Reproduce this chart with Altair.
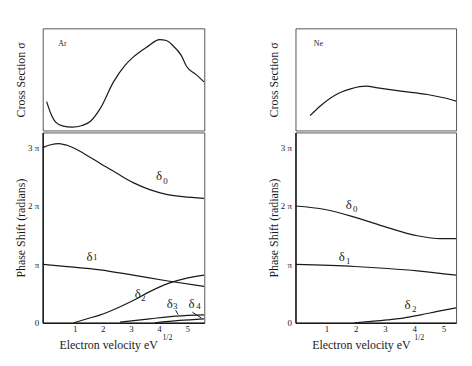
import altair as alt
import pandas as pd

FONT = "Liberation Serif"
INK = "#1a1a1a"

# ---------------- Ar data ----------------
ar_sig_x = [0.0, 0.145, 0.32, 0.56, 0.91, 1.26, 1.55, 1.91, 2.38, 2.79, 3.08, 3.56, 4.02, 4.26, 4.49, 4.79, 4.97, 5.32, 5.6]
ar_sig_y = [2.82, 1.68, 0.81, 0.45, 0.32, 0.49, 0.87, 2.16, 4.76, 6.38, 7.18, 8.16, 8.9, 8.81, 8.32, 7.35, 6.31, 5.47, 4.76]

ar_d0_x = [-0.14, 0.145, 0.44, 0.73, 1.32, 1.91, 2.50, 3.08, 3.67, 4.26, 4.85, 5.6]
ar_d0_y = [3.0, 3.05, 3.07, 3.04, 2.90, 2.73, 2.56, 2.40, 2.28, 2.20, 2.16, 2.13]
ar_d1_x = [-0.14, 0.73, 1.91, 3.08, 4.26, 5.6]
ar_d1_y = [1.0, 0.963, 0.907, 0.815, 0.72, 0.623]
ar_d2_x = [0.97, 1.44, 1.91, 2.50, 3.08, 3.67, 4.26, 4.85, 5.6]
ar_d2_y = [0.0, 0.068, 0.136, 0.25, 0.38, 0.533, 0.662, 0.747, 0.815]
ar_d3_x = [2.61, 3.67, 4.61, 5.6]
ar_d3_y = [0.012, 0.068, 0.114, 0.136]
ar_d4_x = [3.85, 4.73, 5.6]
ar_d4_y = [0.0, 0.04, 0.068]

ar_lab_text = ["δ", "δ", "δ", "δ", "δ"]
ar_lab_x = [4.0, 1.53, 3.24, 4.38, 5.16]
ar_lab_y = [2.51, 1.13, 0.49, 0.32, 0.32]
ar_sub_text = ["0", "1", "2", "3", "4"]
ar_sub_x = [4.23, 1.73, 3.44, 4.58, 5.40]
ar_sub_y = [2.43, 1.13, 0.42, 0.28, 0.28]
ar_lead_x = [4.59, 5.19]
ar_lead_x2 = [4.68, 5.51]
ar_lead_y = [0.216, 0.18]
ar_lead_y2 = [0.14, 0.08]

# ---------------- Ne data ----------------
ne_sig_x = [0.44, 0.83, 1.40, 1.85, 2.35, 2.75, 3.54, 4.45, 5.01, 5.43]
ne_sig_y = [1.46, 2.50, 3.62, 4.10, 4.34, 4.17, 3.85, 3.52, 3.20, 2.88]

ne_d0_x = [-0.05, 0.95, 1.96, 3.09, 4.11, 4.9, 5.43]
ne_d0_y = [2.0, 1.94, 1.81, 1.63, 1.49, 1.44, 1.44]
ne_d1_x = [-0.05, 1.96, 3.09, 4.11, 5.43]
ne_d1_y = [1.0, 0.964, 0.93, 0.89, 0.816]
ne_d2_x = [1.96, 2.53, 3.09, 3.66, 4.22, 4.79, 5.43]
ne_d2_y = [0.0, 0.024, 0.051, 0.085, 0.136, 0.194, 0.255]

ne_lab_text = ["δ", "δ", "δ"]
ne_lab_x = [1.76, 1.52, 3.77]
ne_lab_y = [2.01, 1.13, 0.31]
ne_sub_text = ["0", "1", "2"]
ne_sub_x = [1.98, 1.74, 4.0]
ne_sub_y = [1.95, 1.06, 0.24]

x_ticks = [1, 2, 3, 4, 5]
y_ticks = [0, 1, 2, 3]


def make_panel(gas, gas_x, sig_x, sig_y, curves, lab, sub, leads, xdom, sup_x, width):
    xs = alt.Scale(domain=xdom, nice=False, zero=False)
    ys_top = alt.Scale(domain=[0, 10], nice=False)
    ys_bot = alt.Scale(domain=[0, 3.26], nice=False)

    # ---- top: cross section ----
    sig_df = pd.DataFrame({"v": sig_x, "s": sig_y})
    top_line = alt.Chart(sig_df).mark_line(color=INK, strokeWidth=1.2, interpolate="monotone").encode(
        x=alt.X("v:Q", scale=xs, axis=None),
        y=alt.Y("s:Q", scale=ys_top, axis=alt.Axis(
            title="Cross Section  σ", labels=False, ticks=False, domain=False, grid=False,
            titleX=-22, titleY=51.5, titleFont=FONT, titleFontSize=12, titleFontWeight="normal",
            titleColor=INK, titleBaseline="middle", titleAngle=270)),
    )
    name_df = pd.DataFrame({"v": [gas_x], "s": [8.42], "t": [gas]})
    top_name = alt.Chart(name_df).mark_text(font=FONT, fontSize=8, color=INK, align="center", baseline="middle").encode(
        x=alt.X("v:Q", scale=xs), y=alt.Y("s:Q", scale=ys_top), text="t:N")
    top = alt.layer(top_line, top_name).properties(width=width, height=103)

    # ---- bottom: phase shifts ----
    rows = []
    for name, (cx, cy) in curves.items():
        for a, b in zip(cx, cy):
            rows.append({"series": name, "v": a, "d": b})
    cdf = pd.DataFrame(rows)
    lines = alt.Chart(cdf).mark_line(color=INK, strokeWidth=1.2, interpolate="monotone").encode(
        x=alt.X("v:Q", scale=xs, axis=alt.Axis(
            values=x_ticks, format="d", ticks=False, grid=False, domain=True, domainColor=INK,
            domainWidth=1.5, labelFont=FONT, labelFontSize=9, labelColor=INK, labelPadding=2,
            title="Electron velocity  eV", titleFont=FONT, titleFontSize=12, titleFontWeight="normal",
            titleColor=INK, titleX=66, titleY=22, titleBaseline="middle")),
        y=alt.Y("d:Q", scale=ys_bot, axis=alt.Axis(
            values=y_ticks, ticks=False, grid=False, domain=True, domainColor=INK, domainWidth=1.5,
            labelExpr="datum.value == 0 ? '0' : (datum.value == 1 ? 'π' : datum.value + ' π')",
            labelFont=FONT, labelFontSize=9, labelColor=INK, labelPadding=4,
            title="Phase Shift (radians)", titleFont=FONT, titleFontSize=12, titleFontWeight="normal",
            titleColor=INK, titleX=-22, titleY=96, titleBaseline="middle", titleAngle=270)),
        detail="series:N",
        order="v:Q",
    )
    ldf = pd.DataFrame({"v": lab[0], "d": lab[1], "t": lab[2]})
    labels = alt.Chart(ldf).mark_text(font=FONT, fontSize=13, color=INK, align="center", baseline="middle").encode(
        x=alt.X("v:Q", scale=xs), y=alt.Y("d:Q", scale=ys_bot), text="t:N")
    sdf = pd.DataFrame({"v": sub[0], "d": sub[1], "t": sub[2]})
    subs = alt.Chart(sdf).mark_text(font=FONT, fontSize=9, color=INK, align="center", baseline="middle").encode(
        x=alt.X("v:Q", scale=xs), y=alt.Y("d:Q", scale=ys_bot), text="t:N")
    sup_df = pd.DataFrame({"v": [sup_x], "d": [-0.26], "t": ["1/2"]})
    sup = alt.Chart(sup_df).mark_text(font=FONT, fontSize=8, color=INK, align="center", baseline="middle").encode(
        x=alt.X("v:Q", scale=xs), y=alt.Y("d:Q", scale=ys_bot), text="t:N")
    layers = [lines, labels, subs, sup]
    if leads is not None:
        rdf = pd.DataFrame({"v": leads[0], "v2": leads[1], "d": leads[2], "d2": leads[3]})
        rules = alt.Chart(rdf).mark_rule(color=INK, strokeWidth=1).encode(
            x=alt.X("v:Q", scale=xs), x2="v2:Q", y=alt.Y("d:Q", scale=ys_bot), y2="d2:Q")
        layers.append(rules)
    bottom = alt.layer(*layers).properties(width=width, height=192)
    return alt.vconcat(top, bottom, spacing=0)


left = make_panel(
    "Ar", 0.56, ar_sig_x, ar_sig_y,
    {"d0": (ar_d0_x, ar_d0_y), "d1": (ar_d1_x, ar_d1_y), "d2": (ar_d2_x, ar_d2_y),
     "d3": (ar_d3_x, ar_d3_y), "d4": (ar_d4_x, ar_d4_y)},
    (ar_lab_x, ar_lab_y, ar_lab_text), (ar_sub_x, ar_sub_y, ar_sub_text),
    (ar_lead_x, ar_lead_x2, ar_lead_y, ar_lead_y2),
    [-0.14, 5.61], 4.30, 163)

right = make_panel(
    "Ne", 0.72, ne_sig_x, ne_sig_y,
    {"d0": (ne_d0_x, ne_d0_y), "d1": (ne_d1_x, ne_d1_y), "d2": (ne_d2_x, ne_d2_y)},
    (ne_lab_x, ne_lab_y, ne_lab_text), (ne_sub_x, ne_sub_y, ne_sub_text),
    None,
    [-0.06, 5.43], 4.17, 162)

chart = alt.hconcat(left, right, spacing=60).properties(
    padding={"left": 6, "top": 18, "right": 5, "bottom": 5},
    background="white",
).configure_view(stroke="#555", strokeWidth=1).resolve_scale(x="independent", y="independent")

chart.save("out.html", embed_options={"renderer": "svg", "actions": False})
